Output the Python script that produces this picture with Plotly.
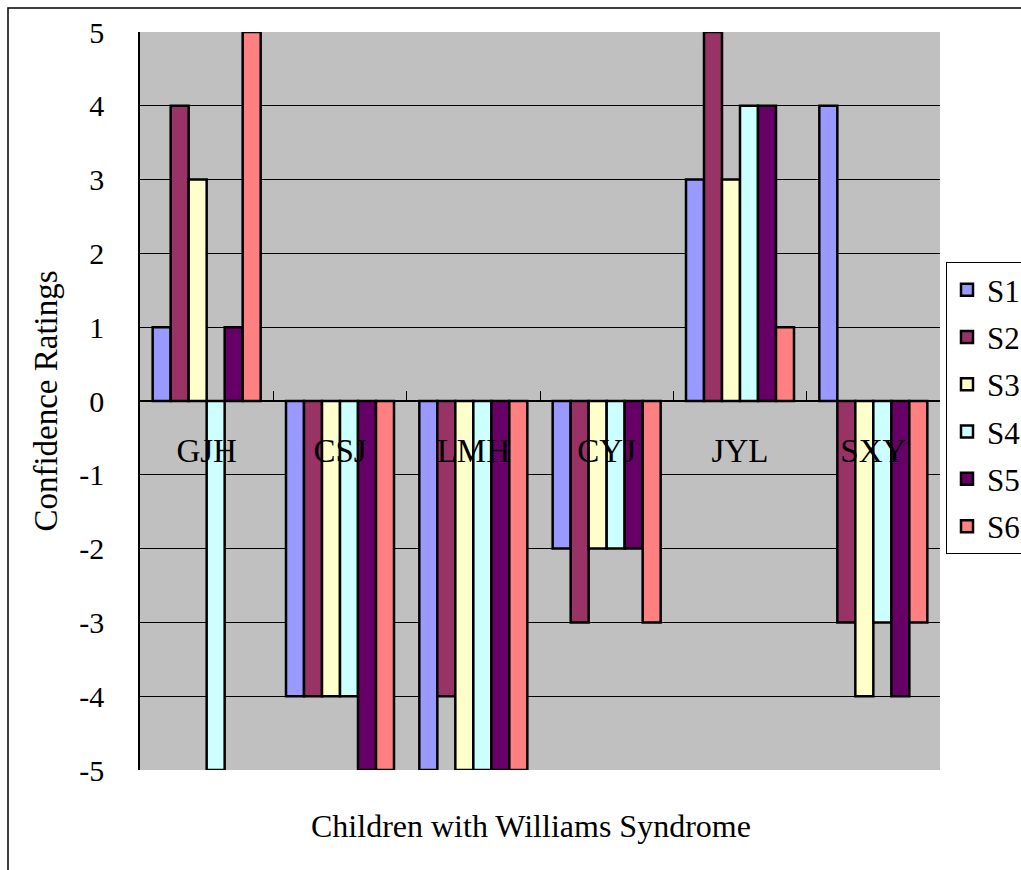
import plotly.graph_objects as go

categories = ["GJH", "CSJ", "LMH", "CYJ", "JYL", "SXY"]
series_names = ["S1", "S2", "S3", "S4", "S5", "S6"]
S1 = [1, -4, -5, -2, 3, 4]
S2 = [4, -4, -4, -3, 5, -3]
S3 = [3, -4, -5, -2, 3, -4]
S4 = [-5, -4, -5, -2, 4, -3]
S5 = [1, -5, -5, -2, 4, -4]
S6 = [5, -5, -5, -3, 1, -3]
series_values = [S1, S2, S3, S4, S5, S6]
colors = ["#9999FF", "#993366", "#FFFFCC", "#CCFFFF", "#660066", "#FF8080"]
y_ticks = [5, 4, 3, 2, 1, 0, -1, -2, -3, -4, -5]

FONT = "'Times New Roman', 'Liberation Serif', serif"

fig = go.Figure()
for name, vals, col in zip(series_names, series_values, colors):
    fig.add_trace(go.Bar(
        x=categories, y=vals, name=name, legendgroup=name,
        marker=dict(color=col, line=dict(color="black", width=2.5)),
    ))

L, R, T, B = 140, 81, 32, 100
W, H = 1021, 870
pw, ph = W - L - R, H - T - B

def px_x(p):
    return (p - L) / pw

def px_y(p):
    return (H - B - p) / ph

fig.update_layout(
    width=W, height=H,
    margin=dict(l=L, r=R, t=T, b=B, autoexpand=False),
    paper_bgcolor="white",
    plot_bgcolor="#C0C0C0",
    barmode="group",
    bargap=0.19,
    bargroupgap=0,
    font=dict(family=FONT, size=30, color="black"),
    showlegend=True,
    legend=dict(
        x=px_x(946), y=px_y(262), xanchor="left", yanchor="top",
        bordercolor="black", borderwidth=1, bgcolor="white",
        font=dict(family=FONT, size=31, color="black"),
        tracegroupgap=4,
        traceorder="grouped",
        itemwidth=30,
    ),
    xaxis=dict(
        type="category",
        anchor="free", position=0.5,
        showline=True, linecolor="black", linewidth=1.5,
        ticks="inside", tickson="boundaries", ticklen=9, tickcolor="black",
        showticklabels=True, tickfont=dict(family=FONT, size=33, color="black"),
        ticklabelstandoff=21,
        showgrid=False, zeroline=False,
    ),
    yaxis=dict(
        range=[-5, 5],
        tickvals=y_ticks,
        ticktext=[str(v) for v in y_ticks],
        showline=True, linecolor="black", linewidth=1.5,
        ticks="inside", ticklen=8, tickcolor="black",
        showgrid=True, gridcolor="black", gridwidth=1,
        zeroline=True, zerolinecolor="black", zerolinewidth=1.5,
        tickfont=dict(family=FONT, size=30, color="black"),
        ticklabelstandoff=28,
        title=dict(text="Confidence Ratings", font=dict(family=FONT, size=33, color="black"), standoff=12),
    ),
    shapes=[
        dict(type="rect", xref="paper", yref="paper",
             x0=px_x(8), x1=px_x(1030), y0=px_y(880), y1=px_y(8),
             line=dict(color="black", width=1.5), fillcolor="rgba(0,0,0,0)", layer="above"),
    ],
    annotations=[
        dict(text="Children with Williams Syndrome", xref="paper", yref="paper",
             x=px_x(531), y=px_y(826), showarrow=False,
             font=dict(family=FONT, size=32, color="black"), xanchor="center", yanchor="middle"),
    ],
)

fig.write_html("out.html")
